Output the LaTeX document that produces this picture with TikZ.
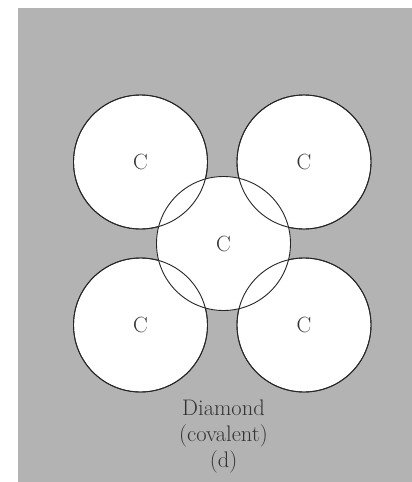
\documentclass[tikz,border=0pt]{standalone}
\begin{document}
\begin{tikzpicture}[x=1pt,y=-1pt,
  atom/.style={circle,minimum size=134pt,inner sep=0pt,fill=white,draw=black!85,line width=0.9pt,
    text=black!80,font=\fontsize{22}{26}\selectfont},
  outline/.style={draw=black!85,line width=0.9pt}]
\useasboundingbox (0,0) rectangle (412,482);
\fill[fill={rgb,255:red,179;green,179;blue,179}] (18,8) rectangle (412,482);
\node[atom] (tl) at (140.5,162) {C};
\node[atom] (tr) at (304,162) {C};
\node[atom] (bl) at (140.5,325) {C};
\node[atom] (br) at (304,325) {C};
\node[atom] (ce) at (223.5,243.5) {C};
\foreach \n in {tl,tr,bl,br} \draw[outline] (\n.center) circle (67);
\node[align=center,font=\fontsize{22.5}{26}\selectfont,text=black!80] (lab) at (223.5,436) {Diamond\\(covalent)\\(d)};
\end{tikzpicture}
\end{document}
